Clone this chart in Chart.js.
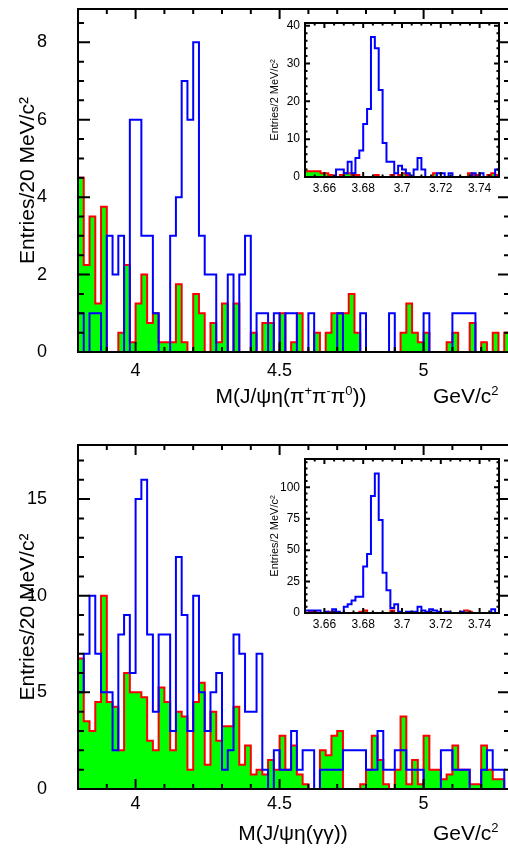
<!DOCTYPE html>
<html>
<head>
<meta charset="utf-8">
<script src="https://cdn.jsdelivr.net/npm/chart.js@4.4.1/dist/chart.umd.min.js"></script>
<style>
  html, body { margin: 0; padding: 0; background: #fff; }
  body { width: 508px; height: 848px; position: relative; overflow: hidden; font-family: 'Liberation Sans', Arial, Helvetica, sans-serif; }
  canvas { position: absolute; }
  .axtitle { position: absolute; font-size: 21px; color: #000; white-space: nowrap; line-height: 1; }
  .axtitle sup { font-size: 13px; vertical-align: 8px; line-height: 0; }
  .center { transform: translateX(-50%); }
</style>
</head>
<body>
<canvas id="pppMain" width="510" height="420" style="left:0;top:0"></canvas>
<canvas id="pppPsi" width="253" height="185" style="left:255px;top:15px"></canvas>
<canvas id="ggMain" width="510" height="418" style="left:0;top:430px"></canvas>
<canvas id="ggPsi" width="253" height="185" style="left:255px;top:451px"></canvas>

<div class="axtitle center" style="left:291px;top:385px">M(J/&psi;&eta;(&pi;<sup>+</sup>&pi;<sup>-</sup>&pi;<sup>0</sup>))</div>
<div class="axtitle" style="left:433px;top:385px">GeV/c<sup>2</sup></div>
<div class="axtitle center" style="left:293px;top:822px">M(J/&psi;&eta;(&gamma;&gamma;))</div>
<div class="axtitle" style="left:433px;top:822px">GeV/c<sup>2</sup></div>

<script>
const FONT = "'Liberation Sans', Arial, Helvetica, sans-serif";

// binning, GeV/c^2
const massMin = 3.8, massMax = 5.3, massBin = 0.02;
const psiMin = 3.65, psiMax = 3.75, psiBin = 0.002;

// eta -> pi+ pi- pi0, 20 MeV bins: signal (blue) and sideband (red/green)
const pppSignal = [
  1, 0, 1, 1, 0, 3, 2, 3, 0, 6,
  6, 3, 3, 1, 0, 0, 3, 4, 7, 6,
  8, 3, 2, 2, 0, 0, 2, 0, 2, 3,
  0, 1, 1, 0, 1, 0, 1, 1, 0, 0,
  1, 0, 0, 0, 0, 1, 0, 0, 0, 1,
  0, 0, 0, 0, 1, 0, 0, 0, 0, 0,
  1, 0, 0, 0, 0, 1, 1, 1, 1, 0,
  0, 0, 0, 0, 0
];
const pppSideband = [
  4.5, 2.25, 3.5, 1.25, 3.75, 0, 0, 0.5, 2.25, 0.25,
  1.25, 2, 0.75, 1, 0.25, 0.25, 0.25, 1.75, 0.25, 0,
  1.5, 1, 0, 0.75, 0.25, 1.25, 0, 1.25, 0, 0,
  0.5, 0, 0.75, 0.75, 0, 1, 0, 0.25, 1, 0,
  0, 0.5, 0, 0.5, 1, 1, 1, 1.5, 0.5, 0,
  0, 0, 0, 0, 0, 0, 0.5, 1.25, 0.5, 0.25,
  0.5, 0, 0, 0, 0.25, 0.5, 0, 0, 0.75, 0,
  0.25, 0, 0.5, 0, 0.5
];

// eta -> gamma gamma, 20 MeV bins
const ggSignal = [
  5, 7, 10, 7, 5, 5, 2, 8, 9, 6,
  15, 16, 8, 4, 8, 8, 3, 12, 9, 3,
  10, 5, 3, 5, 6, 1, 2, 8, 7, 4,
  4, 7, 1, 0, 2, 1, 1, 3, 1, 2,
  2, 0, 1, 1, 1, 1, 2, 2, 2, 2,
  1, 1, 3, 1, 1, 2, 2, 1, 1, 1,
  0, 0, 0, 2, 2, 1, 1, 1, 0, 0,
  1, 2, 1, 1, 0
];
const ggSideband = [
  6.75, 3.5, 3, 4.5, 10, 4.5, 4.25, 2, 6, 5,
  5, 4.75, 2.5, 2, 5.25, 4.5, 2, 4, 3.75, 1,
  4.5, 5.5, 1.25, 4, 2.5, 3.25, 3.25, 4.25, 1.25, 2.25,
  0.75, 1, 0.75, 1.5, 1, 2.75, 1, 2.25, 0.75, 0.25,
  0, 0, 2, 1.75, 2.75, 3, 0, 0, 0, 0.25,
  1, 2.75, 1.5, 0.25, 0, 1, 3.75, 0.25, 1.5, 0.25,
  2.75, 1, 1, 0.5, 0.75, 2.25, 1, 1, 0.25, 0.25,
  2.25, 1, 0.5, 0.5, 0
];

// insets: psi(2S) region, 2 MeV bins
const pppPsiSignal = [
  0, 0, 0, 0, 0, 0, 0, 0, 2, 2,
  1, 4, 1, 5, 7, 14, 18, 37, 34, 23,
  9, 4, 4, 1, 3, 2, 1, 0, 2, 5,
  2, 0, 0, 0, 1, 1, 0, 1, 0, 0,
  0, 0, 0, 1, 0, 1, 0, 0, 0, 2
];
const pppPsiSideband = [
  1.5, 1.5, 1.5, 1.5, 1, 1, 0.5, 0, 0, 0.5,
  1, 1, 0.5, 0.5, 0, 0, 0, 0, 0.5, 0,
  0, 0, 0.5, 0, 0.5, 1, 0.5, 0, 0, 0,
  0, 0, 0, 1, 0, 0, 0, 0, 0, 0,
  0, 0, 1, 0.5, 0.5, 0, 0, 0.5, 1, 0.5
];
const ggPsiSignal = [
  2, 2, 2, 2, 0, 1, 0, 3, 1, 0,
  5, 7, 10, 13, 13, 37, 47, 93, 111, 74,
  32, 18, 4, 7, 1, 0, 1, 1, 1, 5,
  2, 1, 3, 2, 1, 0, 1, 0, 0, 0,
  1, 0, 0, 0, 0, 0, 0, 0, 3, 0
];
const ggPsiSideband = [
  0, 1, 1, 0, 0, 0, 1, 0, 0, 0,
  0, 0, 0, 0, 1, 2, 0, 0, 0, 0,
  0, 0, 2, 0, 0, 0, 0, 0, 0, 0,
  0, 0, 0, 0, 0, 0, 0, 0, 0, 0,
  0, 2, 1, 0, 0, 0, 0, 0, 0, 0
];

// axis labels
const massTicks = [4, 4.5, 5];
const psiTicks = [3.66, 3.68, 3.7, 3.72, 3.74];
const pppYTicks = [0, 2, 4, 6, 8];
const ggYTicks = [0, 5, 10, 15];
const pppPsiYTicks = [0, 10, 20, 30, 40];
const ggPsiYTicks = [0, 25, 50, 75, 100];

function range(from, to, step) {
  const out = [];
  for (let v = from; v <= to + step / 1000; v += step) out.push(+v.toFixed(6));
  return out;
}

// histogram outline as step points: one point per lower bin edge
function toSteps(values, min, width) {
  const pts = [{ x: min, y: 0 }];
  values.forEach((v, i) => pts.push({ x: min + i * width, y: v }));
  pts.push({ x: min + values.length * width, y: 0 });
  return pts;
}

// ROOT style frame: box with inward ticks on all four sides
const rootFrame = {
  id: 'rootFrame',
  beforeDatasetsDraw(chart) {
    const { ctx, chartArea: a } = chart;
    ctx.save();
    ctx.fillStyle = '#fff';
    ctx.fillRect(a.left, a.top, a.right - a.left, a.bottom - a.top);
    ctx.restore();
  },
  afterDatasetsDraw(chart, args, o) {
    const { ctx, chartArea: a, scales: { x, y } } = chart;
    ctx.save();
    ctx.strokeStyle = '#000';
    ctx.lineWidth = o.width;
    ctx.beginPath();
    const xt = (vals, len) => vals.forEach(v => {
      const p = x.getPixelForValue(v);
      ctx.moveTo(p, a.bottom); ctx.lineTo(p, a.bottom - len);
      ctx.moveTo(p, a.top); ctx.lineTo(p, a.top + len);
    });
    const yt = (vals, len) => vals.forEach(v => {
      const p = y.getPixelForValue(v);
      ctx.moveTo(a.left, p); ctx.lineTo(a.left + len, p);
      ctx.moveTo(a.right, p); ctx.lineTo(a.right - len, p);
    });
    xt(o.xMinor, o.xLen / 2);
    xt(o.xMajor, o.xLen);
    yt(o.yMinor, o.yLen / 2);
    yt(o.yMajor, o.yLen);
    ctx.stroke();
    ctx.strokeRect(a.left, a.top, a.right - a.left, a.bottom - a.top);
    ctx.restore();
  }
};
Chart.register(rootFrame);

function histChart(id, c) {
  return new Chart(document.getElementById(id), {
    type: 'line',
    data: {
      datasets: [
        {
          data: toSteps(c.signal, c.min, c.bin),
          stepped: 'before',
          borderColor: '#0000ff',
          borderWidth: 2,
          pointRadius: 0,
          fill: false
        },
        {
          data: toSteps(c.sideband, c.min, c.bin),
          stepped: 'before',
          borderColor: '#ff0000',
          backgroundColor: '#00ff00',
          borderWidth: 2,
          pointRadius: 0,
          fill: 'origin'
        }
      ]
    },
    options: {
      responsive: false,
      animation: false,
      events: [],
      layout: { padding: c.padding },
      plugins: {
        legend: { display: false },
        tooltip: { enabled: false },
        rootFrame: {
          width: 2,
          xMajor: c.xTicks, xMinor: c.xMinor, xLen: c.xLen,
          yMajor: c.yTicks, yMinor: c.yMinor, yLen: c.yLen
        }
      },
      scales: {
        x: {
          type: 'linear',
          min: c.min,
          max: c.max,
          border: { display: false },
          grid: { display: false, drawTicks: false },
          ticks: {
            font: { family: FONT, size: c.tickSize },
            color: '#000',
            padding: c.xPad,
            maxRotation: 0,
            autoSkip: false,
            callback: v => String(v)
          },
          afterBuildTicks: s => { s.ticks = c.xTicks.map(v => ({ value: v })); },
          afterFit: s => { s.height = c.xHeight; s.paddingLeft = 0; s.paddingRight = 0; }
        },
        y: {
          type: 'linear',
          min: 0,
          max: c.yMax,
          border: { display: false },
          grid: { display: false, drawTicks: false },
          ticks: {
            font: { family: FONT, size: c.tickSize },
            color: '#000',
            padding: c.yPad,
            autoSkip: false,
            callback: v => String(v)
          },
          afterBuildTicks: s => { s.ticks = c.yTicks.map(v => ({ value: v })); },
          afterFit: s => { s.width = c.yWidth; s.paddingTop = 0; s.paddingBottom = 0; },
          title: {
            display: true,
            text: c.yTitle,
            color: '#000',
            font: { family: FONT, size: c.titleSize },
            padding: { top: c.titlePad, bottom: 0 }
          }
        }
      }
    }
  });
}

const mainCommon = {
  min: massMin, max: massMax, bin: massBin,
  xTicks: massTicks, xMinor: range(massMin, massMax, 0.1), xLen: 10, yLen: 12,
  tickSize: 18, titleSize: 21, titlePad: 16, yPad: 31, yWidth: 78,
  yTitle: 'Entries/20 MeV/c²'
};
const psiCommon = {
  min: psiMin, max: psiMax, bin: psiBin,
  xTicks: psiTicks, xMinor: range(psiMin, psiMax, 0.005), xLen: 5, yLen: 5,
  tickSize: 12, titleSize: 11, titlePad: 13, xPad: 4, yPad: 5, yWidth: 50,
  yTitle: 'Entries/2 MeV/c²', xHeight: 23
};

histChart('pppMain', Object.assign({}, mainCommon, {
  signal: pppSignal, sideband: pppSideband,
  yMax: 8.86, yTicks: pppYTicks, yMinor: range(0, 8.5, 0.5),
  padding: { top: 9, right: 0, left: 0, bottom: 0 }, xHeight: 68, xPad: 8
}));
histChart('ggMain', Object.assign({}, mainCommon, {
  signal: ggSignal, sideband: ggSideband,
  yMax: 17.8, yTicks: ggYTicks, yMinor: range(0, 17, 1),
  padding: { top: 15, right: 0, left: 0, bottom: 0 }, xHeight: 59, xPad: 4
}));
histChart('pppPsi', Object.assign({}, psiCommon, {
  signal: pppPsiSignal, sideband: pppPsiSideband,
  yMax: 40.7, yTicks: pppPsiYTicks, yMinor: range(0, 40, 2),
  padding: { top: 8, right: 9, left: 0, bottom: 0 }
}));
histChart('ggPsi', Object.assign({}, psiCommon, {
  signal: ggPsiSignal, sideband: ggPsiSideband,
  yMax: 122.5, yTicks: ggPsiYTicks, yMinor: range(0, 120, 5),
  padding: { top: 8, right: 9, left: 0, bottom: 0 }
}));
</script>
</body>
</html>
